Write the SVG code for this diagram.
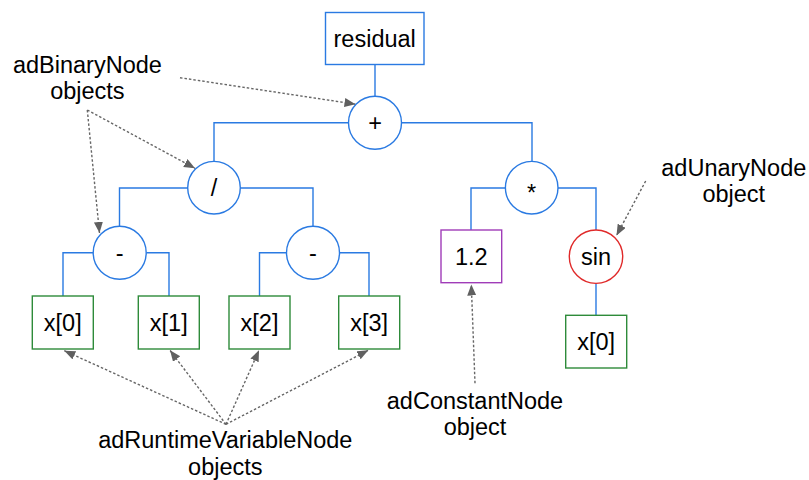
<svg xmlns="http://www.w3.org/2000/svg" width="809" height="480" viewBox="0 0 809 480">
<defs>
<marker id="ah" markerUnits="userSpaceOnUse" markerWidth="12" markerHeight="10" refX="11" refY="4.5" orient="auto">
<path d="M0,0 L11,4.5 L0,9 Z" fill="#606060"/>
</marker>
<style>
.n{fill:#fff;stroke-width:1.4}
.op{stroke:#2a7ae2}
.var{stroke:#2e8b3a}
.con{stroke:#a03cb8}
.un{stroke:#e02a2a}
.t{font-family:"Liberation Sans",Arial,sans-serif;font-size:23.5px;fill:#000;text-anchor:middle}
.e{fill:none;stroke:#2a7ae2;stroke-width:1.4}
.a{fill:none;stroke:#666;stroke-width:1.4;stroke-dasharray:2.5,2;marker-end:url(#ah)}
</style>
</defs>
<rect width="809" height="480" fill="#fff"/>
<g id="edges">
<path class="e" d="M375,65 V96"/>
<path class="e" d="M348.5,122.7 H214 V161.5 M401.5,122.7 H532 V161.5"/>
<path class="e" d="M188,188 H119.5 V226 M240,188 H313 V226"/>
<path class="e" d="M93,252.7 H63 V296 M146.3,252.7 H169 V296"/>
<path class="e" d="M286.3,252.7 H259.5 V296 M339.7,252.7 H369 V296"/>
<path class="e" d="M505.5,188 H471 V230 M558,188 H596 V230"/>
<path class="e" d="M596,283.3 V315.3"/>
</g>
<g id="annotations">
<path class="a" d="M180,77.7 L355.5,104.2"/>
<path class="a" d="M87.3,110 L195,168.3"/>
<path class="a" d="M87.3,110 L99.5,233"/>
<path class="a" d="M645.7,181 L616.5,235.5"/>
<path class="a" d="M475,383.3 L471.3,284.5"/>
<path class="a" d="M226,424.3 L64.3,350.7"/>
<path class="a" d="M226,424.3 L170,350.3"/>
<path class="a" d="M226,424.3 L259,350.3"/>
<path class="a" d="M226,424.3 L368.3,350.3"/>
</g>
<g id="residual"><rect class="n op" x="325.5" y="12.5" width="98.5" height="52"/><text class="t" x="374.7" y="46.8">residual</text></g>
<g id="plus"><circle class="n op" cx="375" cy="122.7" r="26.5"/><text class="t" x="375" y="131">+</text></g>
<g id="div"><circle class="n op" cx="214" cy="187.7" r="26.3"/><text class="t" x="214" y="196">/</text></g>
<g id="minus1"><circle class="n op" cx="119.7" cy="252.7" r="26.5"/><text class="t" x="119.7" y="261">-</text></g>
<g id="minus2"><circle class="n op" cx="313" cy="252.7" r="26.5"/><text class="t" x="313" y="261">-</text></g>
<g id="mul"><circle class="n op" cx="531.7" cy="187.7" r="26.3"/><text class="t" x="531.7" y="201">*</text></g>
<g id="x0"><rect class="n var" x="32.3" y="296" width="61" height="53"/><text class="t" x="62.8" y="330.5">x[0]</text></g>
<g id="x1"><rect class="n var" x="138.3" y="296" width="61" height="53"/><text class="t" x="168.8" y="330.5">x[1]</text></g>
<g id="x2"><rect class="n var" x="229" y="296" width="61" height="53"/><text class="t" x="259.5" y="330.5">x[2]</text></g>
<g id="x3"><rect class="n var" x="338.7" y="296" width="61" height="53"/><text class="t" x="369.2" y="330.5">x[3]</text></g>
<g id="const"><rect class="n con" x="441" y="230" width="60.7" height="52.7"/><text class="t" x="471.3" y="264.7">1.2</text></g>
<g id="sin"><circle class="n un" cx="596" cy="256.7" r="26.7"/><text class="t" x="596" y="264.8">sin</text></g>
<g id="x0b"><rect class="n var" x="565.7" y="315.3" width="61" height="52.7"/><text class="t" x="596.2" y="349.8">x[0]</text></g>
<g id="labels">
<text class="t" x="87.4" y="72.5">adBinaryNode</text>
<text class="t" x="87.4" y="99">objects</text>
<text class="t" x="733.8" y="175.7">adUnaryNode</text>
<text class="t" x="733.8" y="201.7">object</text>
<text class="t" x="475" y="409">adConstantNode</text>
<text class="t" x="475" y="435">object</text>
<text class="t" x="225.3" y="448">adRuntimeVariableNode</text>
<text class="t" x="225.3" y="475">objects</text>
</g>
</svg>
